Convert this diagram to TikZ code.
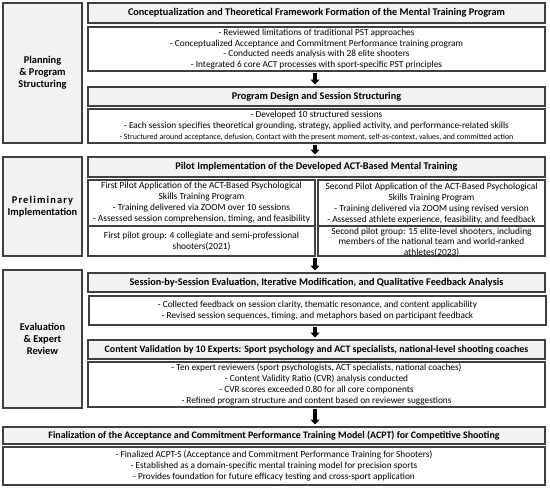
\documentclass[tikz,border=0pt]{standalone}
\usepackage{fontspec}
\setmainfont{Carlito}
\usetikzlibrary{arrows.meta}
\definecolor{frame}{HTML}{404040}
\definecolor{hfill}{HTML}{F2F2F2}
\tikzset{
  x=1pt, y=1pt,
  base/.style={draw=frame, line width=1.4pt, inner sep=0pt, outer sep=0pt},
  hdr/.style={base, fill=hfill, align=center, font=\bfseries\fontsize{10.25}{12}\selectfont},
  hdrs/.style={hdr, font=\bfseries\fontsize{9.9}{12}\selectfont},
  bodyb/.style={base, fill=white, align=center, font=\fontsize{9.3}{10.8}\selectfont},
  cell/.style={base, fill=white, align=center, font=\fontsize{9.4}{11}\selectfont},
  celltext/.style={inner sep=0pt, align=center, font=\fontsize{9.4}{10.6}\selectfont},
  side/.style={base, fill=hfill, align=center, font=\bfseries\fontsize{10.4}{11.8}\selectfont},
  flow/.style={-{Triangle[width=9pt,length=5pt]}, line width=3.4pt, draw=black, shorten <=2pt, shorten >=2.5pt}
}
\newcommand\bx[7]{\node[#6, minimum width={#4pt-#2pt}, minimum height={#5pt-#3pt}] (#1) at ({(#2+#4)/2},{-(#3+#5)/2}) {#7};}
\begin{document}
\begin{tikzpicture}
\useasboundingbox (0,0) rectangle (550,-488);
\coordinate (ax) at (315,0);
% left labels
\bx{L1}{3}{3}{82}{143}{side}{Planning\\ \& Program\\ Structuring}
\bx{L2}{3}{157}{82}{256}{side}{{\addfontfeature{LetterSpace=11}Preliminary}\\ Implementation}
\bx{L3}{3}{270}{82}{408}{side}{Evaluation\\ \& Expert\\ Review}
% stage 1
\bx{H1}{88}{3}{545}{23}{hdr}{Conceptualization and Theoretical Framework Formation of the Mental Training Program}
\bx{B1}{88}{27}{545}{71}{bodyb}{- Reviewed limitations of traditional PST approaches\\ - Conceptualized Acceptance and Commitment Performance training program\\ - Conducted needs analysis with 28 elite shooters\\ - Integrated 6 core ACT processes with sport-specific PST principles}
\bx{H2}{88}{87}{545}{106}{hdr}{Program Design and Session Structuring}
\bx{B2}{88}{109}{545}{143}{bodyb}{- Developed 10 structured sessions\\ - Each session specifies theoretical grounding, strategy, applied activity, and performance-related skills\\ {\fontsize{7.9}{9.5}\selectfont - Structured around acceptance, defusion, Contact with the present moment, self-as-context, values, and committed action}}
% stage 2
\bx{H3}{88}{157}{545}{177}{hdr}{Pilot Implementation of the Developed ACT-Based Mental Training}
\bx{P1a}{88}{180}{315}{226}{cell}{First Pilot Application of the ACT-Based Psychological\\ Skills Training Program\\ - Training delivered via ZOOM over 10 sessions\\ - Assessed session comprehension, timing, and feasibility}
\bx{P1b}{88}{226}{315}{256}{cell}{First pilot group: 4 collegiate and semi-professional\\ shooters(2021)}
\bx{P2a}{318}{180}{545}{226}{cell}{Second Pilot Application of the ACT-Based Psychological\\ Skills Training Program\\ - Training delivered via ZOOM using revised version\\ - Assessed athlete experience, feasibility, and feedback}
\bx{P2b}{318}{226}{545}{256}{cell}{}
\node[celltext, anchor=center] (P2bt) at (431.5,-242) {Second pilot group: 15 elite-level shooters, including\\ members of the national team and world-ranked\\ athletes(2023)};
% stage 3
\bx{H4}{88}{273}{545}{292}{hdr}{Session-by-Session Evaluation, Iterative Modification, and Qualitative Feedback Analysis}
\bx{B4}{89}{296}{546}{325}{bodyb}{- Collected feedback on session clarity, thematic resonance, and content applicability\\ - Revised session sequences, timing, and metaphors based on participant feedback}
\bx{H5}{88}{340}{545}{359}{hdrs}{Content Validation by 10 Experts: Sport psychology and ACT specialists, national-level shooting coaches}
\bx{B5}{88}{362}{545}{407}{bodyb}{- Ten expert reviewers (sport psychologists, ACT specialists, national coaches)\\ - Content Validity Ratio (CVR) analysis conducted\\ - CVR scores exceeded 0.80 for all core components\\ - Refined program structure and content based on reviewer suggestions}
% final
\bx{H6}{3}{427}{545}{444}{hdrs}{Finalization of the Acceptance and Commitment Performance Training Model (ACPT) for Competitive Shooting}
\bx{B6}{3}{447}{545}{485}{bodyb}{- Finalized ACPT-S (Acceptance and Commitment Performance Training for Shooters)\\ - Established as a domain-specific mental training model for precision sports\\ - Provides foundation for future efficacy testing and cross-sport application}
% arrows
\draw[flow] (B1.south -| ax) -- (H2.north -| ax);
\draw[flow] (B2.south -| ax) -- (H3.north -| ax);
\draw[flow] (P1b.south -| ax) -- (H4.north -| ax);
\draw[flow] (B4.south -| ax) -- (H5.north -| ax);
\draw[flow] (B5.south -| ax) -- (H6.north -| ax);
\end{tikzpicture}
\end{document}
